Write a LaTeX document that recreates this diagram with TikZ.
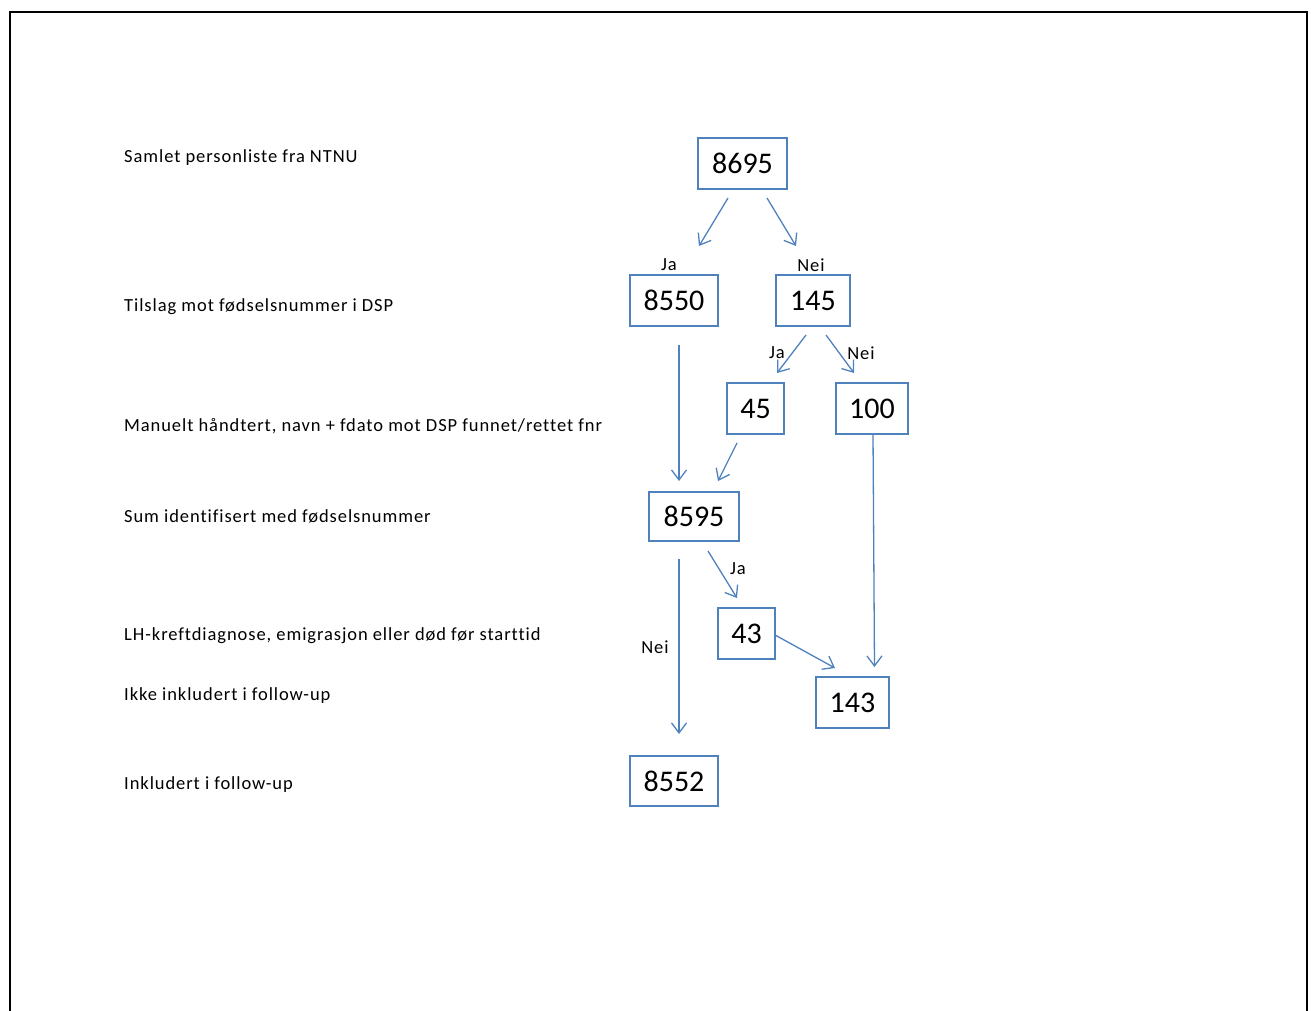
\documentclass[tikz,border=0pt]{standalone}
\usepackage{fontspec}
\setmainfont{Carlito}
\newfontfamily\spacedfont[LetterSpace=5,Ligatures=NoCommon]{Carlito}
\usetikzlibrary{arrows.meta}
\definecolor{ofblue}{RGB}{79,129,189}
\tikzset{
  numbox/.style={draw=ofblue, line width=1.3pt, inner sep=0pt, font=\fontsize{30}{34}\selectfont},
  rowtxt/.style={anchor=west, inner sep=0pt, font=\spacedfont\fontsize{18.5}{22}\selectfont},
  lbl/.style={inner sep=0pt, font=\spacedfont\fontsize{18.5}{22}\selectfont},
  conn/.style={draw=ofblue, line width=1.3pt, -{Straight Barb[length=10pt,width=15pt,line width=1.3pt]}}
}
\begin{document}
\begin{tikzpicture}[x=1pt,y=-1pt]
\useasboundingbox (0,0) rectangle (1311,1011);
\begin{scope}
\clip (0,0) rectangle (1311,1011);
\draw[line width=2.2pt] (10,1030) -- (10,12) -- (1307,12) -- (1307,1030);
\end{scope}
% row texts
\node[rowtxt] (t1) at (124,158) {Samlet personliste fra NTNU};
\node[rowtxt] (t2) at (124,307) {Tilslag mot fødselsnummer i DSP};
\node[rowtxt] (t3) at (124,426) {Manuelt håndtert, navn + fdato mot DSP funnet/rettet fnr};
\node[rowtxt] (t4) at (124,516) {Sum identifisert med fødselsnummer};
\node[rowtxt] (t5) at (124,636) {LH-kreftdiagnose, emigrasjon eller død før starttid};
\node[rowtxt] (t6) at (124,696) {Ikke inkludert i follow-up};
\node[rowtxt] (t7) at (124,785) {Inkludert i follow-up};
% boxes
\node[numbox, minimum width=89pt, minimum height=51pt] (n8695) at (742.5,163.5) {8695};
\node[numbox, minimum width=88pt, minimum height=51pt] (n8550) at (674,300.5) {8550};
\node[numbox, minimum width=74pt, minimum height=51pt] (n145) at (813,300.5) {145};
\node[numbox, minimum width=57pt, minimum height=51pt] (n45) at (755.5,408.5) {45};
\node[numbox, minimum width=72pt, minimum height=51pt] (n100) at (872,408.5) {100};
\node[numbox, minimum width=90pt, minimum height=49pt] (n8595) at (694,516.5) {8595};
\node[numbox, minimum width=57pt, minimum height=51pt] (n43) at (746.5,633.5) {43};
\node[numbox, minimum width=73pt, minimum height=51pt] (n143) at (852.5,702.5) {143};
\node[numbox, minimum width=88pt, minimum height=50pt] (n8552) at (674,781) {8552};
% labels
\node[lbl] (l1) at (669,265) {Ja};
\node[lbl] (l2) at (811,265) {Nei};
\node[lbl] (l3) at (777,353) {Ja};
\node[lbl] (l4) at (861,353) {Nei};
\node[lbl] (l5) at (738,569) {Ja};
\node[lbl] (l6) at (655,647) {Nei};
% connector endpoints
\coordinate (a1s) at (728,198); \coordinate (a1e) at (699,246);
\coordinate (a2s) at (767,198); \coordinate (a2e) at (796,246);
\coordinate (a3s) at (806,335); \coordinate (a3e) at (777,373);
\coordinate (a4s) at (826,335); \coordinate (a4e) at (854,373);
\coordinate (a5s) at (679,345); \coordinate (a5e) at (679,481);
\coordinate (a6s) at (737,443); \coordinate (a6e) at (718,481);
\coordinate (a7s) at (873,434); \coordinate (a7e) at (874.5,667);
\coordinate (a8s) at (679,559); \coordinate (a8e) at (679,734);
\coordinate (a9s) at (708,551); \coordinate (a9e) at (737,598);
\coordinate (a10s) at (775,635); \coordinate (a10e) at (835,668);
\draw[conn] (a1s) -- (a1e);
\draw[conn] (a2s) -- (a2e);
\draw[conn] (a3s) -- (a3e);
\draw[conn] (a4s) -- (a4e);
\draw[conn] (a5s) -- (a5e);
\draw[conn] (a6s) -- (a6e);
\draw[conn] (a7s) -- (a7e);
\draw[conn] (a8s) -- (a8e);
\draw[conn] (a9s) -- (a9e);
\draw[conn] (a10s) -- (a10e);
\end{tikzpicture}
\end{document}
